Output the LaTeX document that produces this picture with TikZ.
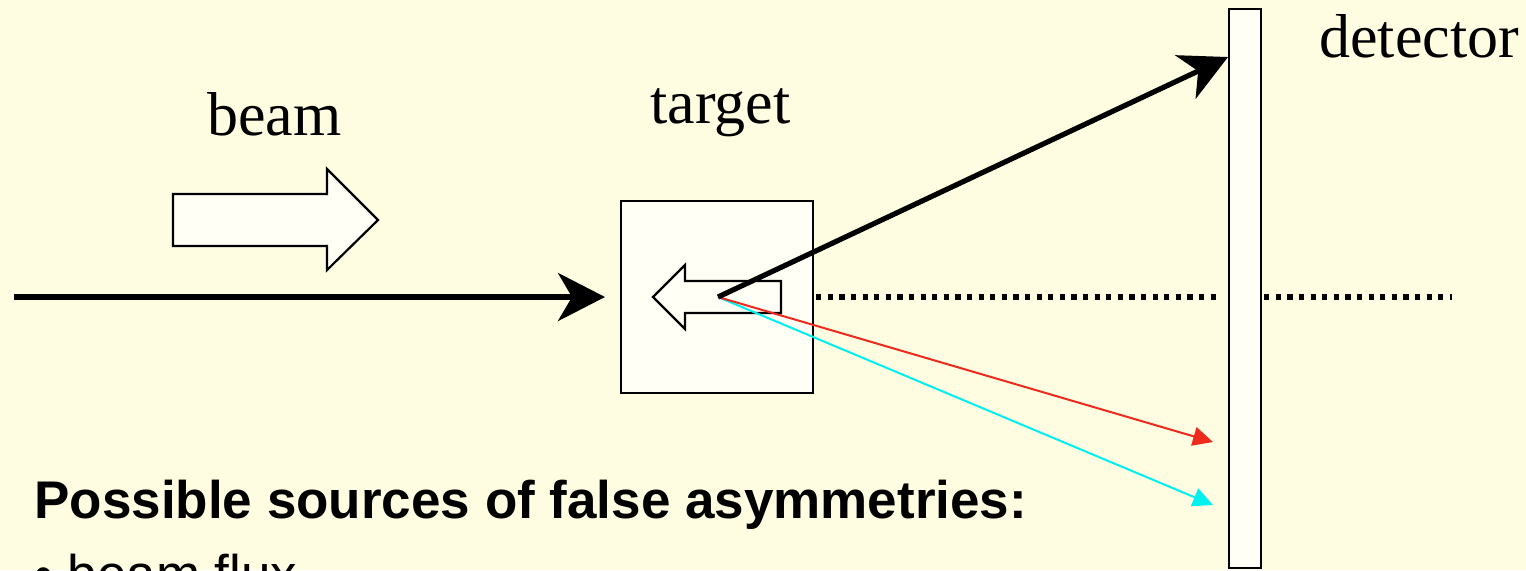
\documentclass[tikz,border=0pt]{standalone}
\usepackage{fontspec}
\setmainfont{Liberation Serif}
\setsansfont{Liberation Sans}
\usetikzlibrary{arrows.meta}
\definecolor{bg}{HTML}{FFFDE1}
\definecolor{boxfill}{HTML}{FFFFF5}
\definecolor{rayred}{HTML}{EC2A1E}
\definecolor{raycyan}{HTML}{00F0F0}
\tikzset{
  outline/.style={draw=black, line width=1.1pt, fill=boxfill},
  label/.style={inner sep=0pt, anchor=base west, font=\fontsize{31pt}{36pt}\selectfont},
  thickray/.style={line width=2.6pt, -{Stealth[length=23.5pt, width=24pt, inset=7pt]}},
  thinray/.style={line width=1pt, -{Triangle[length=10pt, width=9.5pt]}},
  dotline/.style={line width=2.8pt, dash pattern=on 2.6pt off 3.2pt}
}
\begin{document}
\begin{tikzpicture}[x=0.5pt, y=-0.5pt]
\useasboundingbox (0,0) rectangle (1526,570);
\clip (0,0) rectangle (1526,570);
\fill[bg] (0,0) rectangle (1526,570);

% texts
\node[label] (beamlbl) at (207,135) {beam};
\node[label] (targetlbl) at (650,123) {target};
\node[label] (detlbl) at (1319,57) {detector};
\node[inner sep=0pt, anchor=base west, font=\sffamily\bfseries\fontsize{26.5pt}{32pt}\selectfont] (title) at (34,518) {Possible sources of false asymmetries:};
\node[inner sep=0pt, anchor=base west, font=\sffamily\fontsize{26.5pt}{32pt}\selectfont] (item) at (34,592) {• beam flux};

% beam direction block arrow
\draw[outline] (173,194) -- (327,194) -- (327,169) -- (378,220) -- (327,270) -- (327,246) -- (173,246) -- cycle;

% target and detector
\node[outline, minimum width=96pt, minimum height=96pt, inner sep=0pt] (target) at (717,297) {};
\node[outline, minimum width=16pt, minimum height=279.5pt, inner sep=0pt] (detector) at (1245,288.5) {};

% spin arrow inside target
\draw[outline] (781,281) -- (685,281) -- (685,265) -- (653,297) -- (685,329) -- (685,313) -- (781,313) -- cycle;

% coordinates
\coordinate (src) at (14,297);
\coordinate (hit) at (605,297);
\coordinate (vtx) at (718,297);
\coordinate (d1) at (1228,57);
\coordinate (d2) at (1213,442);
\coordinate (d3) at (1213,505);
\coordinate (dotend) at (1452,297);

% incoming beam
\draw[thickray] (src) -- (hit);

% dotted axis
\draw[dotline] (target.east |- vtx) ++(2,0) -- ([xshift=-3pt]detector.west |- vtx);
\draw[dotline] ([xshift=1pt]detector.east |- vtx) -- (dotend);

% scattered rays
\draw[thinray, raycyan] (vtx) -- (d3);
\draw[thinray, rayred] (vtx) -- (d2);
\draw[thickray] (vtx) -- (d1);
\end{tikzpicture}
\end{document}
